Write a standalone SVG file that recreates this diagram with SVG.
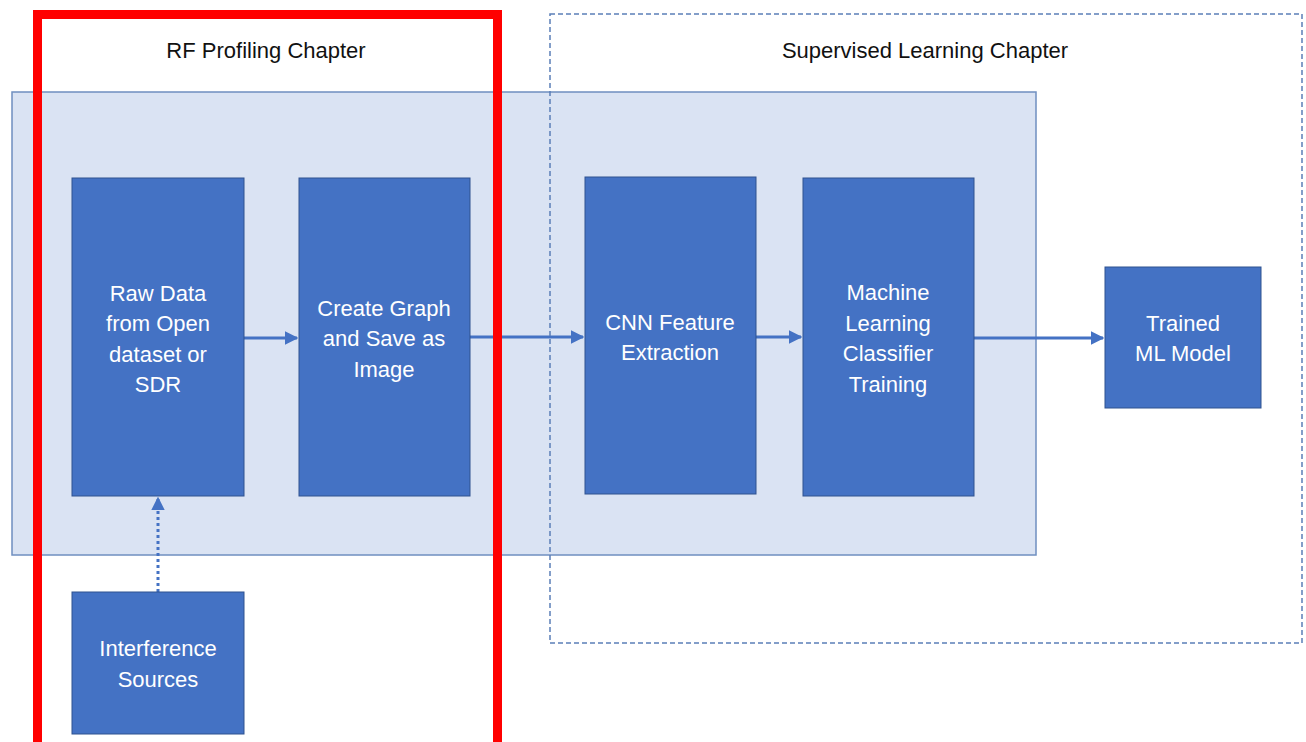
<svg xmlns="http://www.w3.org/2000/svg" width="1306" height="742" viewBox="0 0 1306 742">
  <defs>
    <style>
      .node rect { fill: #4472c4; stroke: #2f528f; stroke-width: 1; }
      .node text { fill: #ffffff; font-family: "Liberation Sans", Arial, sans-serif; font-size: 22px; text-anchor: middle; }
      .title { fill: #111111; font-family: "Liberation Sans", Arial, sans-serif; font-size: 22px; text-anchor: middle; }
      .flow { stroke: #4472c4; stroke-width: 3; fill: none; }
    </style>
    <marker id="head" viewBox="0 0 10 10" refX="9" refY="5" markerWidth="4.5" markerHeight="4.5" orient="auto" markerUnits="strokeWidth">
      <path d="M0,0 L10,5 L0,10 z" fill="#4472c4"/>
    </marker>
  </defs>

  <rect width="1306" height="742" fill="#ffffff"/>

  <!-- pipeline container -->
  <rect id="pipeline" x="12" y="92" width="1024" height="463" fill="#dae3f3" stroke="#6f8fc0" stroke-width="1.5"/>

  <!-- connectors -->
  <g id="connectors">
    <line class="flow" x1="244" y1="338" x2="297" y2="338" marker-end="url(#head)"/>
    <line class="flow" x1="470" y1="337" x2="583" y2="337" marker-end="url(#head)"/>
    <line class="flow" x1="756" y1="337" x2="801" y2="337" marker-end="url(#head)"/>
    <line class="flow" x1="974" y1="338" x2="1103" y2="338" marker-end="url(#head)"/>
    <line class="flow" x1="158" y1="592" x2="158" y2="498" stroke-dasharray="3,3" marker-end="url(#head)"/>
  </g>

  <!-- chapter frames -->
  <g id="supervised-chapter">
    <rect x="550" y="14" width="752" height="629" fill="none" stroke="#5b7fb8" stroke-width="1.5" stroke-dasharray="5,3"/>
    <text class="title" x="925" y="58">Supervised Learning Chapter</text>
  </g>
  <g id="rf-chapter">
    <rect x="37.5" y="14.5" width="460" height="740" fill="none" stroke="#ff0000" stroke-width="9"/>
    <text class="title" x="266" y="58">RF Profiling Chapter</text>
  </g>

  <!-- nodes -->
  <g id="raw-data" class="node">
    <rect x="72" y="178" width="172" height="318"/>
    <text x="158" y="301">Raw Data</text>
    <text x="158" y="331">from Open</text>
    <text x="158" y="362">dataset or</text>
    <text x="158" y="392">SDR</text>
  </g>
  <g id="create-graph" class="node">
    <rect x="299" y="178" width="171" height="318"/>
    <text x="384" y="316">Create Graph</text>
    <text x="384" y="346">and Save as</text>
    <text x="384" y="377">Image</text>
  </g>
  <g id="cnn" class="node">
    <rect x="585" y="177" width="171" height="317"/>
    <text x="670" y="330">CNN Feature</text>
    <text x="670" y="360">Extraction</text>
  </g>
  <g id="classifier" class="node">
    <rect x="803" y="178" width="171" height="318"/>
    <text x="888" y="300">Machine</text>
    <text x="888" y="331">Learning</text>
    <text x="888" y="361">Classifier</text>
    <text x="888" y="392">Training</text>
  </g>
  <g id="trained-model" class="node">
    <rect x="1105" y="267" width="156" height="141"/>
    <text x="1183" y="331">Trained</text>
    <text x="1183" y="361">ML Model</text>
  </g>
  <g id="interference" class="node">
    <rect x="72" y="592" width="172" height="142"/>
    <text x="158" y="656">Interference</text>
    <text x="158" y="687">Sources</text>
  </g>
</svg>
